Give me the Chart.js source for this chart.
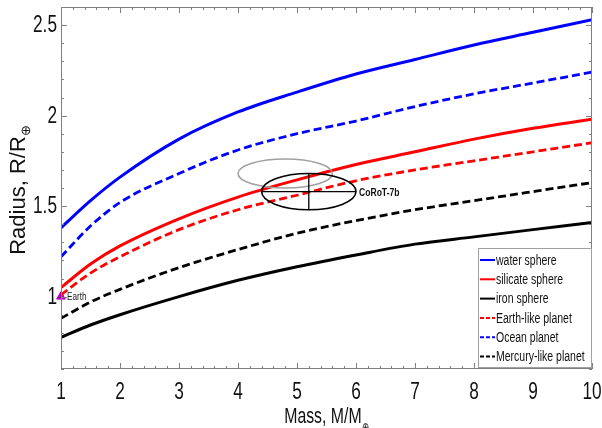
<!DOCTYPE html>
<html>
<head>
<meta charset="utf-8">
<script src="https://cdn.jsdelivr.net/npm/chart.js@4.4.1/dist/chart.umd.min.js"></script>
<style>
  html, body { margin: 0; padding: 0; background: #fff; }
  #wrap { width: 602px; height: 428px; }
</style>
</head>
<body>
<div id="wrap"><canvas id="mr-chart"></canvas></div>
<script>
// Mass-radius curves
const massValues        = [1, 1.5, 2, 3, 4, 5, 6, 7, 8, 9, 10];
const waterSphere       = [1.38, 1.53, 1.66, 1.87, 2.02, 2.13, 2.23, 2.31, 2.39, 2.46, 2.53];
const silicateSphere    = [1.05, 1.18, 1.28, 1.43, 1.55, 1.645, 1.73, 1.80, 1.87, 1.93, 1.98];
const ironSphere        = [0.775, 0.843, 0.90, 1.00, 1.09, 1.165, 1.23, 1.29, 1.33, 1.37, 1.41];
const earthLikePlanet   = [1.01, 1.13, 1.22, 1.37, 1.48, 1.56, 1.64, 1.70, 1.75, 1.80, 1.85];
const oceanPlanet       = [1.22, 1.39, 1.52, 1.68, 1.81, 1.90, 1.97, 2.05, 2.12, 2.18, 2.24];
const mercuryLikePlanet = [0.88, 0.97, 1.04, 1.16, 1.26, 1.35, 1.42, 1.48, 1.53, 1.58, 1.63];

// CoRoT-7b estimates (old one grey, new one black)
const corotMass      = [4.8, 5.2];
const corotMassErr   = [0.8, 0.8];
const corotRadius    = [1.68, 1.58];
const corotRadiusErr = [0.08, 0.10];

// Earth
const earthMass   = [1];
const earthRadius = [1];

// axis ticks
const xTicks      = [1, 2, 3, 4, 5, 6, 7, 8, 9, 10];
const xTickLabels = ['1', '2', '3', '4', '5', '6', '7', '8', '9', '10'];
const yTicks      = [1, 1.5, 2, 2.5];
const yTickLabels = ['1', '1.5', '2', '2.5'];

const FONT = "'Liberation Sans', Arial, sans-serif";

// the original figure is squeezed sideways, so horizontal text is drawn narrow
function narrowText(ctx, text, x, y, size, align, baseline, sx, weight) {
    ctx.save();
    ctx.translate(x, y);
    ctx.scale(sx, 1);
    ctx.font = (weight || '') + ' ' + size + 'px ' + FONT;
    ctx.textAlign = align;
    ctx.textBaseline = baseline;
    ctx.fillText(text, 0, 0);
    ctx.restore();
}

const points = ys => massValues.map((m, i) => ({ x: m, y: ys[i] }));

function curve(label, ys, color, dashed) {
    return {
        label: label,
        data: points(ys),
        borderColor: color,
        backgroundColor: color,
        borderWidth: dashed ? 2.8 : 3,
        borderDash: dashed ? [8, 4] : [],
        pointRadius: 0,
        cubicInterpolationMode: 'monotone',
        fill: false
    };
}

const ellipseColors = ['#a0a0a0', '#000000'];

const decorations = {
    id: 'decorations',
    afterDatasetsDraw(chart) {
        const ctx = chart.ctx, xs = chart.scales.x, ys = chart.scales.y;
        ctx.save();
        corotMass.forEach((m, i) => {
            const cx = xs.getPixelForValue(m), cy = ys.getPixelForValue(corotRadius[i]);
            const rx = xs.getPixelForValue(m + corotMassErr[i]) - cx;
            const ry = cy - ys.getPixelForValue(corotRadius[i] + corotRadiusErr[i]);
            ctx.strokeStyle = ellipseColors[i];
            ctx.lineWidth = 1.6;
            ctx.beginPath();
            ctx.ellipse(cx, cy, rx, ry, 0, 0, Math.PI * 2);
            ctx.stroke();
            if (i === corotMass.length - 1) {
                // error bars
                ctx.lineWidth = 1.3;
                ctx.beginPath();
                ctx.moveTo(cx - rx, cy); ctx.lineTo(cx + rx, cy);
                ctx.moveTo(cx, cy - ry); ctx.lineTo(cx, cy + ry);
                ctx.stroke();
                ctx.fillStyle = '#111';
                narrowText(ctx, 'CoRoT-7b', cx + rx + 3, cy + 1, 11, 'left', 'middle', 0.78, 'bold');
            }
        });
        // Earth label
        const ex = xs.getPixelForValue(earthMass[0]), ey = ys.getPixelForValue(earthRadius[0]);
        ctx.fillStyle = '#222';
        narrowText(ctx, 'Earth', ex + 6, ey + 1, 10, 'left', 'middle', 0.82);
        ctx.restore();
    },
    afterDraw(chart) {
        const ctx = chart.ctx, a = chart.chartArea, xs = chart.scales.x, ys = chart.scales.y;
        ctx.save();
        // box + inward ticks
        ctx.strokeStyle = '#808080';
        ctx.lineWidth = 1;
        ctx.strokeRect(a.left + 0.5, a.top + 0.5, a.right - a.left - 1, a.bottom - a.top - 1);
        ctx.beginPath();
        for (let i = 0; i <= 45; i++) {
            const px = Math.round(xs.getPixelForValue(1 + i * 0.2)) + 0.5;
            const len = i % 5 === 0 ? 6 : 3;
            ctx.moveTo(px, a.bottom); ctx.lineTo(px, a.bottom - len);
            ctx.moveTo(px, a.top); ctx.lineTo(px, a.top + len);
        }
        for (let i = 0; i <= 20; i++) {
            const py = Math.round(ys.getPixelForValue(0.6 + i * 0.1)) + 0.5;
            const len = (6 + i) % 5 === 0 ? 6 : 3;
            ctx.moveTo(a.left, py); ctx.lineTo(a.left + len, py);
            ctx.moveTo(a.right, py); ctx.lineTo(a.right - len, py);
        }
        ctx.stroke();

        // tick labels
        ctx.fillStyle = '#111';
        xs.ticks.forEach((t, i) => {
            narrowText(ctx, xTickLabels[i], xs.getPixelForValue(t.value), a.bottom + 30, 23, 'center', 'alphabetic', 0.75);
        });
        ys.ticks.forEach((t, i) => {
            narrowText(ctx, yTickLabels[i], a.left - 4, ys.getPixelForValue(t.value) + 1, 23, 'right', 'middle', 0.75);
        });

        // legend box
        const items = chart.data.datasets.filter(d => !d.noLegend);
        const lw = 113, lh = 119;
        const lx = a.right - lw - 1, ly = a.bottom - lh - 2;
        ctx.fillStyle = '#fff';
        ctx.fillRect(lx, ly, lw, lh);
        ctx.strokeStyle = '#a0a0a0';
        ctx.strokeRect(lx + 0.5, ly + 0.5, lw, lh);
        items.forEach((d, i) => {
            const y = ly + 12 + i * 19.3;
            ctx.strokeStyle = d.borderColor;
            ctx.lineWidth = 2;
            ctx.setLineDash(d.borderDash.length ? [4, 2] : []);
            ctx.beginPath();
            ctx.moveTo(lx + 2, y); ctx.lineTo(lx + 17, y);
            ctx.stroke();
            ctx.setLineDash([]);
            ctx.fillStyle = '#111';
            narrowText(ctx, d.label, lx + 18, y + 1, 14, 'left', 'middle', 0.75);
        });

        // x axis title with subscript earth symbol
        ctx.fillStyle = '#111';
        const sx = 0.72;
        ctx.font = '22px ' + FONT;
        const wMain = ctx.measureText('Mass, M/M').width * sx;
        ctx.font = '12px ' + FONT;
        const wSub = ctx.measureText('\u2295').width * sx;
        const xStart = (a.left + a.right) / 2 - (wMain + wSub) / 2;
        narrowText(ctx, 'Mass, M/M', xStart, 423, 22, 'left', 'alphabetic', sx);
        narrowText(ctx, '\u2295', xStart + wMain, 431, 12, 'left', 'alphabetic', sx);

        // y axis title
        ctx.translate(25, 190);
        ctx.rotate(-Math.PI / 2);
        ctx.font = '22px ' + FONT;
        const yMain = 'Radius, R/R';
        const wyMain = ctx.measureText(yMain).width;
        ctx.font = '13px ' + FONT;
        const wySub = ctx.measureText('\u2295').width;
        const yStart = -(wyMain + wySub) / 2;
        ctx.textBaseline = 'alphabetic';
        ctx.textAlign = 'left';
        ctx.font = '22px ' + FONT;
        ctx.fillText(yMain, yStart, 0);
        ctx.font = '13px ' + FONT;
        ctx.fillText('\u2295', yStart + wyMain, 5);
        ctx.restore();
    }
};

const datasets = [
    curve('water sphere', waterSphere, '#0000ff', false),
    curve('silicate sphere', silicateSphere, '#ff0000', false),
    curve('iron sphere', ironSphere, '#000000', false),
    curve('Earth-like planet', earthLikePlanet, '#ff0000', true),
    curve('Ocean planet', oceanPlanet, '#0000ff', true),
    curve('Mercury-like planet', mercuryLikePlanet, '#000000', true),
    {
        label: 'Earth',
        noLegend: true,
        data: earthMass.map((m, i) => ({ x: m, y: earthRadius[i] })),
        showLine: false,
        pointStyle: 'triangle',
        pointRadius: 5,
        backgroundColor: '#b000b0',
        borderColor: '#b000b0',
        clip: false
    }
];

const chartCtx = document.getElementById('mr-chart').getContext('2d');
new Chart(chartCtx, {
    type: 'line',
    data: { datasets: datasets },
    options: {
        responsive: true,
        maintainAspectRatio: false,
        animation: false,
        layout: { padding: { top: 7, right: 10, left: 0, bottom: 0 } },
        plugins: { legend: { display: false }, tooltip: { enabled: false } },
        scales: {
            x: {
                type: 'linear', min: 1, max: 10,
                grid: { display: false }, border: { display: false },
                afterBuildTicks: s => { s.ticks = xTicks.map(v => ({ value: v })); },
                afterFit: s => { s.height = 59; s.paddingLeft = 0; s.paddingRight = 0; },
                ticks: { display: false }
            },
            y: {
                type: 'linear', min: 0.6, max: 2.6,
                grid: { display: false }, border: { display: false },
                afterBuildTicks: s => { s.ticks = yTicks.map(v => ({ value: v })); },
                afterFit: s => { s.width = 61; s.paddingTop = 0; s.paddingBottom = 0; },
                ticks: { display: false }
            }
        }
    },
    plugins: [decorations]
});
</script>
</body>
</html>
